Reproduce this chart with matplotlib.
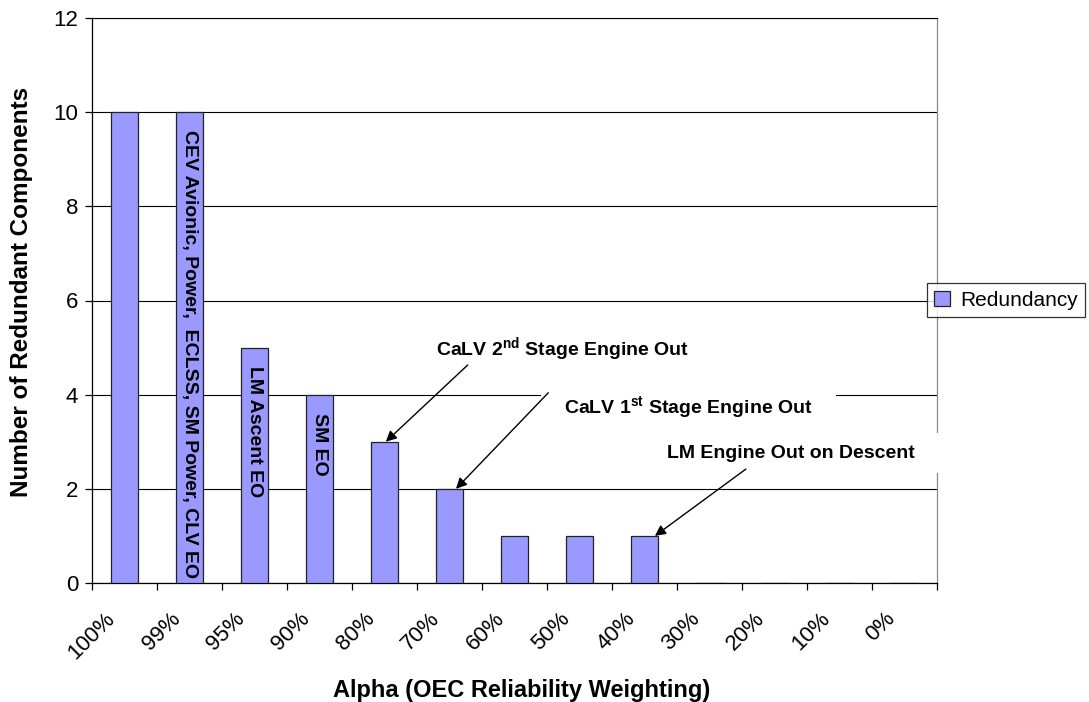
import matplotlib
matplotlib.use("Agg")
import matplotlib.pyplot as plt
import matplotlib.transforms as mtransforms
import numpy as np

categories = ["100%", "99%", "95%", "90%", "80%", "70%", "60%", "50%", "40%", "30%", "20%", "10%", "0%"]
redundancy = [10, 10, 5, 4, 3, 2, 1, 1, 1, 0, 0, 0, 0]
series_name = "Redundancy"
y_ticks = [0, 2, 4, 6, 8, 10, 12]
bar_labels = {1: "CEV Avionic, Power,  ECLSS, SM Power, CLV EO",
              2: "LM Ascent EO",
              3: "SM EO"}
# callout texts, the bar each points at, text left/centre position, arrow tail
ann_texts = [r"CaLV 2$^{\mathrm{nd}}$ Stage Engine Out",
             r"CaLV 1$^{\mathrm{st}}$ Stage Engine Out",
             "LM Engine Out on Descent"]
ann_bars = [4, 5, 8]
ann_head_dx = [0.02, 0.1, 0.16]
ann_text_xy = [(4.79, 4.97), (6.76, 3.74), (8.35, 2.76)]
ann_tail_xy = [(5.28, 4.63), (6.52, 4.04), (9.56, 2.42)]

plt.rcParams['font.family'] = ['Liberation Sans', 'DejaVu Sans']
plt.rcParams['mathtext.fontset'] = 'custom'
plt.rcParams['mathtext.rm'] = 'Liberation Sans:bold'
plt.rcParams['mathtext.bf'] = 'Liberation Sans:bold'
plt.rcParams['mathtext.it'] = 'Liberation Sans:italic'

fig = plt.figure(figsize=(10.89, 7.02), dpi=100)
ax = fig.add_axes([92/1089, 1-583/702, (937-92)/1089, (583-18)/702])

x = np.arange(len(categories))
bars = ax.bar(x, redundancy, width=0.42, color='#9999FF', edgecolor='#222222',
              linewidth=0.9, zorder=3, label=series_name)

ax.set_xlim(-0.5, len(categories) - 0.5)
ax.set_ylim(0, 12)
ax.set_yticks(y_ticks)
ax.set_yticklabels([str(v) for v in y_ticks], fontsize=16)
ax.yaxis.grid(True, color='black', linewidth=0.8, zorder=1)
ax.set_axisbelow(True)

ax.set_xticks(x)
ax.set_xticklabels(categories, rotation=45, ha='right', rotation_mode='anchor', fontsize=16)
ax.set_xticks(np.arange(len(categories) + 1) - 0.5, minor=True)
ax.tick_params(axis='x', which='major', length=0, pad=18)
ax.tick_params(axis='x', which='minor', length=5, direction='out', width=0.9)
ax.tick_params(axis='y', length=5, direction='out', width=0.9, pad=5)
shift = mtransforms.ScaledTranslation(-20/100, 0, fig.dpi_scale_trans)
for lab in ax.get_xticklabels():
    lab.set_transform(lab.get_transform() + shift)

for s in ['left', 'bottom']:
    ax.spines[s].set_color('black')
    ax.spines[s].set_linewidth(0.9)
ax.spines['top'].set_color('black')
ax.spines['top'].set_linewidth(0.8)
ax.spines['right'].set_color('#888888')
ax.spines['right'].set_linewidth(0.9)

ax.set_ylabel("Number of Redundant Components", fontsize=17.5, fontweight='bold')
ax.yaxis.set_label_coords((22-92)/845, (583-292)/565)
ax.yaxis.label.set_va('center')
ax.set_xlabel("Alpha (OEC Reliability Weighting)", fontsize=17, fontweight='bold')
ax.xaxis.set_label_coords((522-92)/845, (583-690)/565)
ax.xaxis.label.set_va('center')

for i, txt in bar_labels.items():
    ax.annotate(txt, xy=(x[i], redundancy[i]), xytext=(0, -13), textcoords='offset points',
                rotation=-90, ha='center', va='top', fontsize=14, fontweight='bold', zorder=5)

box_pads = [None, 1.2, 0.6]
trailing = ["", "", "    "]
for txt, bi, dx, (tx, ty), tail, bp, tr in zip(ann_texts, ann_bars, ann_head_dx,
                                               ann_text_xy, ann_tail_xy, box_pads, trailing):
    kw = {}
    if bp is not None:
        kw['bbox'] = dict(boxstyle='square,pad=%g' % bp, facecolor='white', edgecolor='none')
    ax.text(tx, ty, txt + tr, ha='left', va='center', fontsize=14, fontweight='bold',
            zorder=6, clip_on=False, **kw)
    ax.annotate('', xy=(x[bi] + dx, redundancy[bi]), xytext=tail,
                arrowprops=dict(arrowstyle='-|>', color='black', lw=1.0, mutation_scale=16,
                                shrinkA=0, shrinkB=0),
                annotation_clip=False, zorder=7)

leg = fig.legend(handles=[bars], labels=[series_name], loc='center left',
                 bbox_to_anchor=(927/1089, 1-300/702), fontsize=15, frameon=True,
                 fancybox=False, edgecolor='black', handlelength=0.75, handleheight=0.75,
                 borderpad=0.35, handletextpad=0.5, borderaxespad=0)
leg.get_frame().set_linewidth(0.9)

fig.savefig("out.png", dpi=100)
